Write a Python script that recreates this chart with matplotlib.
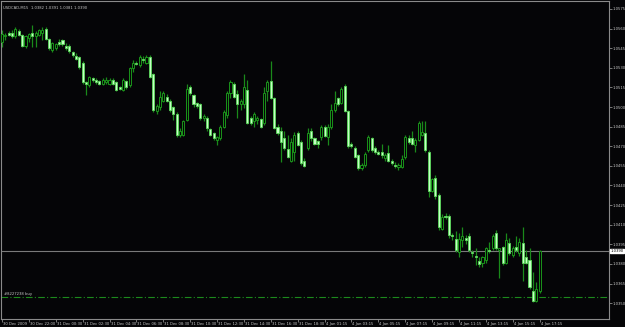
import numpy as np
import matplotlib.pyplot as plt
import matplotlib.transforms as mtransforms

TITLE = "USDCAD,M15  1.0382 1.0391 1.0381 1.0390"
ORDER_LABEL = "#8227238 buy"
ORDER_PRICE = 1.0355
LAST_PRICE = 1.0390

# M15 bars (prices)
open_ = [
    1.0550, 1.0554, 1.0557, 1.0557, 1.0554, 1.0558, 1.0555, 1.0547, 1.0553, 1.0557,
    1.0554, 1.0555, 1.0557, 1.0560, 1.0552, 1.0544, 1.0545, 1.0550, 1.0551, 1.0547,
    1.0547, 1.0542, 1.0539, 1.0538, 1.0534, 1.0519, 1.0517, 1.0522, 1.0521, 1.0520,
    1.0518, 1.0519, 1.0518, 1.0521, 1.0519, 1.0515, 1.0513, 1.0520, 1.0517, 1.0530,
    1.0534, 1.0532, 1.0537, 1.0534, 1.0538, 1.0525, 1.0497, 1.0500, 1.0505, 1.0508,
    1.0505, 1.0500, 1.0495, 1.0479, 1.0479, 1.0490, 1.0515, 1.0509, 1.0503, 1.0502,
    1.0492, 1.0492, 1.0483, 1.0480, 1.0475, 1.0476, 1.0485, 1.0494, 1.0511, 1.0518,
    1.0510, 1.0502, 1.0502, 1.0513, 1.0492, 1.0489, 1.0490, 1.0491, 1.0488, 1.0512,
    1.0520, 1.0507, 1.0485, 1.0482, 1.0476, 1.0468, 1.0459, 1.0466, 1.0480, 1.0473,
    1.0459, 1.0469, 1.0482, 1.0476, 1.0474, 1.0477, 1.0485, 1.0477, 1.0485, 1.0498,
    1.0507, 1.0503, 1.0516, 1.0497, 1.0472, 1.0469, 1.0463, 1.0453, 1.0456, 1.0467,
    1.0476, 1.0469, 1.0466, 1.0466, 1.0461, 1.0465, 1.0459, 1.0456, 1.0454, 1.0454,
    1.0462, 1.0476, 1.0476, 1.0471, 1.0475, 1.0479, 1.0480, 1.0466, 1.0436, 1.0446,
    1.0433, 1.0407, 1.0417, 1.0417, 1.0402, 1.0399, 1.0389, 1.0398, 1.0400, 1.0401,
    1.0389, 1.0386, 1.0382, 1.0381, 1.0383, 1.0391, 1.0392, 1.0404, 1.0391, 1.0393,
    1.0381, 1.0396, 1.0387, 1.0393, 1.0388, 1.0396, 1.0385, 1.0383, 1.0359, 1.0352,
    1.0359,
]
high = [
    1.0559, 1.0557, 1.0558, 1.0559, 1.0561, 1.0560, 1.0556, 1.0555, 1.0557, 1.0563,
    1.0558, 1.0560, 1.0561, 1.0561, 1.0553, 1.0550, 1.0549, 1.0552, 1.0552, 1.0549,
    1.0548, 1.0543, 1.0541, 1.0539, 1.0535, 1.0520, 1.0524, 1.0523, 1.0522, 1.0521,
    1.0522, 1.0523, 1.0522, 1.0522, 1.0520, 1.0516, 1.0522, 1.0521, 1.0531, 1.0536,
    1.0535, 1.0540, 1.0539, 1.0540, 1.0540, 1.0526, 1.0502, 1.0512, 1.0512, 1.0510,
    1.0506, 1.0501, 1.0496, 1.0484, 1.0490, 1.0518, 1.0517, 1.0510, 1.0504, 1.0503,
    1.0495, 1.0493, 1.0484, 1.0481, 1.0478, 1.0486, 1.0498, 1.0512, 1.0521, 1.0519,
    1.0513, 1.0506, 1.0525, 1.0521, 1.0493, 1.0496, 1.0493, 1.0492, 1.0515, 1.0521,
    1.0535, 1.0508, 1.0487, 1.0485, 1.0482, 1.0479, 1.0476, 1.0481, 1.0482, 1.0475,
    1.0461, 1.0484, 1.0484, 1.0477, 1.0475, 1.0486, 1.0486, 1.0487, 1.0502, 1.0512,
    1.0508, 1.0515, 1.0518, 1.0498, 1.0473, 1.0470, 1.0464, 1.0457, 1.0466, 1.0479,
    1.0477, 1.0470, 1.0467, 1.0472, 1.0465, 1.0471, 1.0460, 1.0458, 1.0457, 1.0463,
    1.0479, 1.0479, 1.0482, 1.0476, 1.0489, 1.0489, 1.0489, 1.0467, 1.0446, 1.0448,
    1.0434, 1.0418, 1.0419, 1.0418, 1.0404, 1.0405, 1.0404, 1.0408, 1.0402, 1.0404,
    1.0391, 1.0392, 1.0385, 1.0386, 1.0393, 1.0397, 1.0403, 1.0406, 1.0392, 1.0394,
    1.0404, 1.0400, 1.0394, 1.0401, 1.0400, 1.0408, 1.0391, 1.0392, 1.0374, 1.0366,
    1.0391,
]
low = [
    1.0546, 1.0551, 1.0554, 1.0553, 1.0553, 1.0554, 1.0546, 1.0545, 1.0550, 1.0546,
    1.0546, 1.0554, 1.0551, 1.0551, 1.0544, 1.0542, 1.0544, 1.0547, 1.0547, 1.0544,
    1.0541, 1.0538, 1.0536, 1.0529, 1.0518, 1.0509, 1.0515, 1.0519, 1.0518, 1.0517,
    1.0517, 1.0518, 1.0517, 1.0517, 1.0512, 1.0513, 1.0512, 1.0514, 1.0515, 1.0527,
    1.0532, 1.0531, 1.0534, 1.0533, 1.0522, 1.0496, 1.0495, 1.0498, 1.0504, 1.0504,
    1.0496, 1.0490, 1.0477, 1.0477, 1.0478, 1.0489, 1.0509, 1.0500, 1.0499, 1.0490,
    1.0489, 1.0482, 1.0478, 1.0475, 1.0471, 1.0475, 1.0484, 1.0492, 1.0507, 1.0507,
    1.0492, 1.0498, 1.0499, 1.0487, 1.0486, 1.0485, 1.0487, 1.0484, 1.0486, 1.0505,
    1.0506, 1.0483, 1.0479, 1.0458, 1.0467, 1.0461, 1.0458, 1.0459, 1.0470, 1.0456,
    1.0454, 1.0467, 1.0474, 1.0471, 1.0469, 1.0475, 1.0477, 1.0471, 1.0483, 1.0496,
    1.0501, 1.0502, 1.0496, 1.0469, 1.0469, 1.0461, 1.0452, 1.0452, 1.0454, 1.0466,
    1.0466, 1.0464, 1.0463, 1.0461, 1.0459, 1.0458, 1.0456, 1.0453, 1.0452, 1.0453,
    1.0460, 1.0472, 1.0471, 1.0466, 1.0474, 1.0478, 1.0466, 1.0431, 1.0435, 1.0430,
    1.0406, 1.0406, 1.0414, 1.0400, 1.0398, 1.0389, 1.0385, 1.0393, 1.0395, 1.0389,
    1.0385, 1.0379, 1.0378, 1.0378, 1.0381, 1.0388, 1.0391, 1.0391, 1.0369, 1.0379,
    1.0380, 1.0387, 1.0385, 1.0389, 1.0386, 1.0367, 1.0380, 1.0361, 1.0351, 1.0351,
    1.0358,
]
close = [
    1.0556, 1.0555, 1.0555, 1.0554, 1.0560, 1.0555, 1.0547, 1.0554, 1.0556, 1.0554,
    1.0557, 1.0559, 1.0559, 1.0552, 1.0545, 1.0549, 1.0548, 1.0548, 1.0548, 1.0545,
    1.0543, 1.0540, 1.0537, 1.0531, 1.0519, 1.0518, 1.0523, 1.0521, 1.0519, 1.0518,
    1.0521, 1.0521, 1.0521, 1.0518, 1.0513, 1.0514, 1.0521, 1.0515, 1.0530, 1.0534,
    1.0533, 1.0538, 1.0536, 1.0538, 1.0523, 1.0498, 1.0501, 1.0508, 1.0511, 1.0505,
    1.0498, 1.0495, 1.0479, 1.0482, 1.0489, 1.0514, 1.0511, 1.0502, 1.0501, 1.0492,
    1.0493, 1.0484, 1.0479, 1.0476, 1.0477, 1.0485, 1.0496, 1.0511, 1.0519, 1.0508,
    1.0502, 1.0505, 1.0515, 1.0488, 1.0488, 1.0495, 1.0492, 1.0485, 1.0511, 1.0519,
    1.0507, 1.0484, 1.0480, 1.0473, 1.0469, 1.0462, 1.0473, 1.0479, 1.0471, 1.0457,
    1.0455, 1.0480, 1.0476, 1.0472, 1.0472, 1.0485, 1.0478, 1.0485, 1.0498, 1.0503,
    1.0502, 1.0514, 1.0497, 1.0470, 1.0470, 1.0462, 1.0453, 1.0456, 1.0464, 1.0477,
    1.0467, 1.0466, 1.0464, 1.0463, 1.0463, 1.0459, 1.0457, 1.0455, 1.0456, 1.0460,
    1.0477, 1.0473, 1.0472, 1.0475, 1.0488, 1.0481, 1.0467, 1.0436, 1.0445, 1.0432,
    1.0408, 1.0416, 1.0416, 1.0402, 1.0401, 1.0391, 1.0399, 1.0401, 1.0398, 1.0391,
    1.0388, 1.0385, 1.0380, 1.0385, 1.0392, 1.0390, 1.0401, 1.0392, 1.0392, 1.0381,
    1.0398, 1.0388, 1.0392, 1.0391, 1.0397, 1.0381, 1.0381, 1.0362, 1.0352, 1.0361,
    1.0390,
]

time_labels = [
    "30 Dec 2009", "30 Dec 22:00", "31 Dec 00:30", "31 Dec 02:30", "31 Dec 04:30",
    "31 Dec 06:30", "31 Dec 08:30", "31 Dec 10:30", "31 Dec 12:30", "31 Dec 14:30",
    "31 Dec 16:30", "31 Dec 18:30", "4 Jan 01:15", "4 Jan 03:15", "4 Jan 05:15",
    "4 Jan 07:15", "4 Jan 09:15", "4 Jan 11:15", "4 Jan 13:15", "4 Jan 15:15",
    "4 Jan 17:15",
]
LABEL_EVERY = 8  # bars between time labels

price_ticks = [1.0575, 1.0560, 1.0545, 1.0530, 1.0515, 1.0500, 1.0485, 1.0470,
               1.0455, 1.0440, 1.0425, 1.0410, 1.0395, 1.0380, 1.0365, 1.0350]

BG = "#050507"
GRID = "#8a8a8a"
TXT = "#c8c8c8"
WICK = "#1a8a1a"
BULL_EDGE = "#1a941a"
BEAR_FACE = "#c4ffc4"
BEAR_EDGE = "#5ad85a"
FONT = ["Liberation Sans Narrow", "DejaVu Sans"]
FS = 2.7

o = np.array(open_)
h = np.array(high)
l = np.array(low)
c = np.array(close)
x = np.arange(len(o))

fig = plt.figure(figsize=(6.25, 3.27), dpi=100, facecolor=BG)
ax = fig.add_axes([1 / 625, 8 / 327, 608 / 625, 318 / 327], facecolor=BG)

# wicks
ax.vlines(x, l, h, color=WICK, lw=0.9, zorder=2)

# bodies
bull = c >= o
bottoms = np.minimum(o, c)
heights = np.maximum(np.abs(c - o), 0.00003)
ax.bar(x[bull], heights[bull], bottom=bottoms[bull], width=0.62,
       facecolor=BG, edgecolor=BULL_EDGE, linewidth=0.7, zorder=3)
ax.bar(x[~bull], heights[~bull], bottom=bottoms[~bull], width=0.62,
       facecolor=BEAR_FACE, edgecolor=BEAR_EDGE, linewidth=0.6, zorder=3)

# current price line and order line
ax.axhline(LAST_PRICE, color="#7a7a7a", lw=0.8, zorder=1)
ax.axhline(ORDER_PRICE, color="#1c8a1c", lw=0.8, ls=(0, (6, 2, 1, 2)), zorder=1)
ax.text(0.6, ORDER_PRICE + 0.00005, ORDER_LABEL, color=TXT, fontsize=FS,
        family=FONT, va="bottom", ha="left")

ax.set_xlim(-0.3, 180.65)
ax.set_ylim(1.03379, 1.05811)

for sp in ax.spines.values():
    sp.set_color(GRID)
    sp.set_linewidth(0.8)

# right price scale
ax.yaxis.tick_right()
ax.set_yticks(price_ticks)
ax.set_yticklabels([f"{p:.4f}" for p in price_ticks], family=FONT)
ax.tick_params(axis="y", colors=GRID, labelcolor=TXT, labelsize=FS,
               length=2.0, width=0.6, pad=0.8)

# time scale: labels start at the tick
ticks = x[::LABEL_EVERY]
ax.set_xticks(ticks)
ax.set_xticklabels([])
ax.tick_params(axis="x", colors=GRID, length=2.5, width=0.6)
trans = mtransforms.blended_transform_factory(ax.transData, ax.transAxes)
for t, lab in zip(ticks, time_labels):
    ax.text(t + 0.3, -0.008, lab, transform=trans, color=TXT, fontsize=FS,
            family=FONT, ha="left", va="top")

# current price box on the scale
ax.text(1.0025, LAST_PRICE, f"{LAST_PRICE:.4f}",
        transform=mtransforms.blended_transform_factory(ax.transAxes, ax.transData),
        color="black", fontsize=FS, family=FONT, ha="left", va="center",
        bbox=dict(boxstyle="square,pad=0.1", fc="white", ec="white"))

# symbol header
ax.text(0.004, 0.985, TITLE, transform=ax.transAxes, color=TXT, fontsize=FS,
        family=FONT, ha="left", va="top")

fig.savefig("out.png", dpi=100, facecolor=BG)
